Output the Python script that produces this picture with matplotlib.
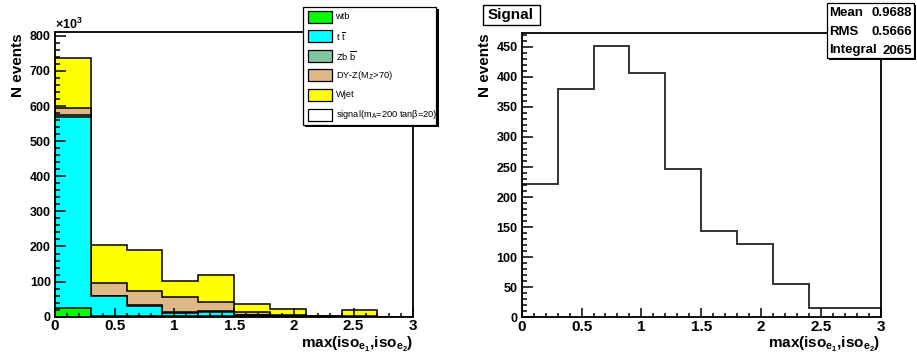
import numpy as np
import matplotlib
matplotlib.use("Agg")
import matplotlib.pyplot as plt
from matplotlib.patches import Rectangle
from matplotlib.ticker import MultipleLocator, FuncFormatter

plt.rcParams['font.family'] = ['Liberation Sans', 'DejaVu Sans']
plt.rcParams['mathtext.fontset'] = 'custom'
plt.rcParams['mathtext.rm'] = 'Liberation Sans'
plt.rcParams['mathtext.it'] = 'Liberation Sans'
plt.rcParams['mathtext.bf'] = 'Liberation Sans:bold'

# Binning of max(iso_e1, iso_e2)
bin_edges = [0.0, 0.3, 0.6, 0.9, 1.2, 1.5, 1.8, 2.1, 2.4, 2.7, 3.0]

# Background samples (events, in units of 10^3)
wtb = [24, 2, 2, 2, 2, 1, 0.5, 0, 0, 0]
ttbar = [546, 57, 29, 9, 12, 4, 0.5, 0.5, 0.5, 0]
zbb = [4, 1, 1, 1, 1, 0.3, 0.2, 0, 0, 0]
dy_z = [20, 37, 42, 44, 26, 8.7, 3.8, 1.5, 1.5, 0]
wjet = [143, 106, 115, 45, 79, 21, 18, 1, 17, 0]

# Signal sample (mA=200, tanb=20)
signal = [222, 379, 452, 407, 247, 144, 122, 55, 16, 16]

bkg_names = ["wtb", r"$\mathrm{t}\ \overline{\mathrm{t}}$", r"$\mathrm{Zb}\ \overline{\mathrm{b}}$",
             r"DY-Z(M$_\mathrm{Z}$>70)", "Wjet"]
signal_name = r"signal(m$_\mathrm{A}$=200 tanβ=20)"
bkg_colors = ["#00ff00", "#00ffff", "#7fc6a0", "#deb887", "#ffff00"]

stats_labels = ["Mean", "RMS", "Integral"]
stats_values = ["0.9688", "0.5666", "2065"]

xtitle = r"$\mathbf{max(iso_{e_{1}}{,}iso_{e_{2}})}$"

W, H = 917, 358
fig = plt.figure(figsize=(W / 100, H / 100), dpi=100)


def fx(px):
    return px / W


def fy(py):
    return 1 - py / H


def axes_box(x0, y0, x1, y1):
    return [fx(x0), fy(y1), fx(x1) - fx(x0), fy(y0) - fy(y1)]


def style_axes(ax, ymajor, yminor):
    ax.set_xlim(0, 3)
    ax.xaxis.set_major_locator(MultipleLocator(0.5))
    ax.xaxis.set_minor_locator(MultipleLocator(0.1))
    ax.yaxis.set_major_locator(MultipleLocator(ymajor))
    ax.yaxis.set_minor_locator(MultipleLocator(yminor))
    ax.tick_params(axis='both', which='both', direction='in', top=False, right=False,
                   width=1.1, color='black')
    ax.tick_params(axis='x', which='major', length=6.5, labelsize=11, pad=2)
    ax.tick_params(axis='x', which='minor', length=3)
    ax.tick_params(axis='y', which='major', length=8, labelsize=9, pad=3)
    ax.tick_params(axis='y', which='minor', length=3.6)
    ax.xaxis.set_major_formatter(FuncFormatter(lambda v, p: f"{v:g}"))
    for s in ax.spines.values():
        s.set_linewidth(1.3)
    ax.set_axisbelow(False)
    for lab in ax.get_xticklabels() + ax.get_yticklabels():
        lab.set_fontweight('bold')


def add_box(x0, y0, x1, y1, shadow=0.0, lw=0.9, z=10):
    if shadow:
        fig.patches.append(Rectangle((fx(x0 + shadow), fy(y1 + shadow)), fx(x1 - x0),
                                     fy(y0) - fy(y1), transform=fig.transFigure,
                                     facecolor='black', edgecolor='none', zorder=z))
    fig.patches.append(Rectangle((fx(x0), fy(y1)), fx(x1 - x0), fy(y0) - fy(y1),
                                 transform=fig.transFigure, facecolor='white',
                                 edgecolor='black', linewidth=lw, zorder=z + 1))


# ---------------- left: stacked backgrounds ----------------
axL = fig.add_axes(axes_box(55, 32.3, 413.3, 316.7))
stack = np.cumsum(np.array([wtb, ttbar, zbb, dy_z, wjet], dtype=float), axis=0)
for i in range(len(stack) - 1, -1, -1):
    axL.stairs(stack[i], bin_edges, baseline=0, fill=True, facecolor=bkg_colors[i],
               edgecolor='none', zorder=1 + (5 - i) * 0.1)
    axL.stairs(stack[i], bin_edges, baseline=0, fill=False, color='black',
               linewidth=1.1, zorder=1.05 + (5 - i) * 0.1)
axL.set_ylim(0, 810)
style_axes(axL, 100, 20)

fig.text(fx(55), fy(24.5), r"$\mathbf{\times 10^{3}}$", fontsize=9, ha='left', va='center')
fig.text(fx(18.5), fy(33), "N events", rotation=90, fontsize=11, fontweight='bold',
         ha='center', va='top')
fig.text(fx(413.3), fy(348), xtitle, fontsize=11, ha='right', va='baseline')

# legend
add_box(302.7, 6.7, 436, 124.5, shadow=2.5)
row_y = [16.8, 36.3, 55.8, 75.0, 94.5, 114.5]
entries = list(zip(bkg_names, bkg_colors)) + [(signal_name, "#ffffff")]
for (name, col), ry in zip(entries, row_y):
    fig.patches.append(Rectangle((fx(307.5), fy(ry + 6)), fx(24), fy(0) - fy(12),
                                 transform=fig.transFigure, facecolor=col, edgecolor='black',
                                 linewidth=0.9, zorder=12))
    fig.text(fx(335.5), fy(ry), name, fontsize=6.7, ha='left', va='center', zorder=13)

# ---------------- right: signal ----------------
axR = fig.add_axes(axes_box(521.7, 32.7, 880.7, 317.3))
axR.stairs(signal, bin_edges, baseline=0, fill=False, color='#333333', linewidth=1.4)
axR.set_ylim(0, 473.5)
style_axes(axR, 50, 10)

fig.text(fx(485), fy(33), "N events", rotation=90, fontsize=11, fontweight='bold',
         ha='center', va='top')
fig.text(fx(880.7), fy(348), xtitle, fontsize=11, ha='right', va='baseline')

# title
add_box(482.7, 4.7, 539.5, 24.5, lw=1.0)
fig.text(fx(511.1), fy(15.1), "Signal", fontsize=11, fontweight='bold',
         ha='center', va='center', zorder=12)

# statistics
add_box(826.7, 2.7, 913.5, 57.8, shadow=2)
for lab, val, ry in zip(stats_labels, stats_values, [13.5, 32, 50.5]):
    fig.text(fx(829.5), fy(ry), lab, fontsize=9.5, fontweight='bold', ha='left',
             va='center', zorder=12)
    fig.text(fx(912), fy(ry), val, fontsize=9.5, fontweight='bold', ha='right',
             va='center', zorder=12)

fig.savefig("out.png", dpi=100)
